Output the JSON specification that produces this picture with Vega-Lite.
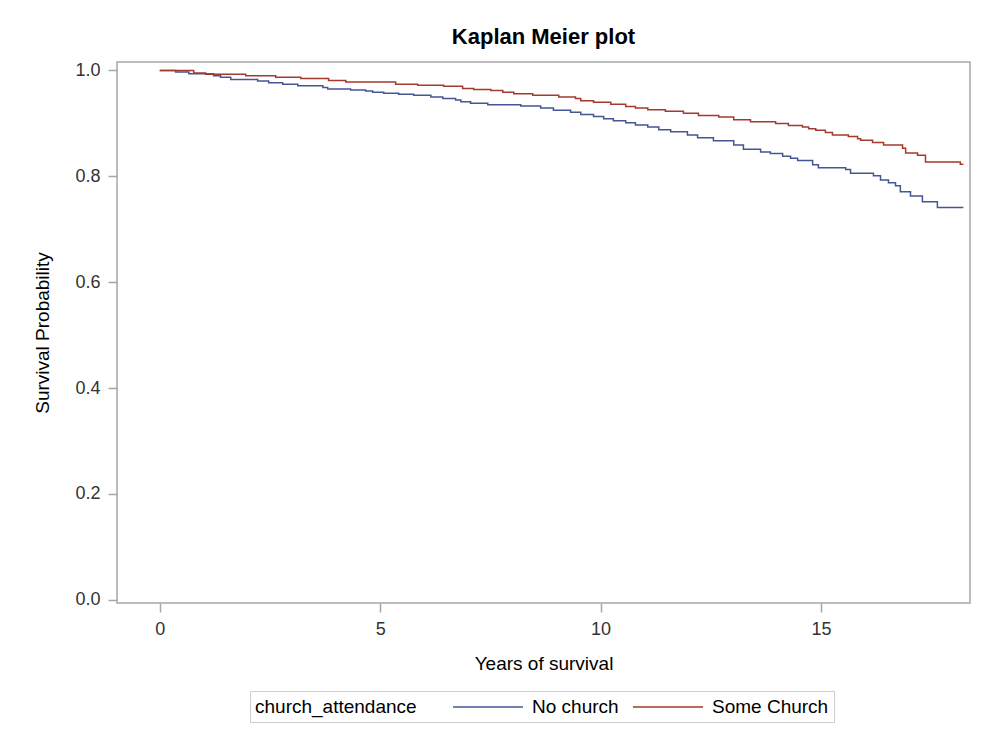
{
  "$schema": "https://vega.github.io/schema/vega-lite/v6.json",
  "width": 853,
  "height": 541,
  "autosize": {"type": "none"},
  "padding": {"left": 117, "top": 62, "right": 18, "bottom": 129},
  "background": "white",
  "title": {
    "text": "Kaplan Meier plot",
    "font": "Liberation Sans",
    "fontSize": 22,
    "fontWeight": "bold",
    "color": "#000000",
    "anchor": "middle",
    "offset": 12
  },
  "data": {
    "values": [
      {"t": 0.00, "s": 1.000, "g": "No church"},
      {"t": 0.36, "s": 0.997, "g": "No church"},
      {"t": 0.66, "s": 0.994, "g": "No church"},
      {"t": 1.22, "s": 0.990, "g": "No church"},
      {"t": 1.38, "s": 0.987, "g": "No church"},
      {"t": 1.61, "s": 0.983, "g": "No church"},
      {"t": 2.22, "s": 0.980, "g": "No church"},
      {"t": 2.47, "s": 0.977, "g": "No church"},
      {"t": 2.79, "s": 0.974, "g": "No church"},
      {"t": 3.13, "s": 0.971, "g": "No church"},
      {"t": 3.70, "s": 0.968, "g": "No church"},
      {"t": 3.81, "s": 0.965, "g": "No church"},
      {"t": 4.33, "s": 0.963, "g": "No church"},
      {"t": 4.67, "s": 0.961, "g": "No church"},
      {"t": 4.83, "s": 0.959, "g": "No church"},
      {"t": 5.08, "s": 0.957, "g": "No church"},
      {"t": 5.42, "s": 0.955, "g": "No church"},
      {"t": 5.76, "s": 0.953, "g": "No church"},
      {"t": 6.15, "s": 0.950, "g": "No church"},
      {"t": 6.42, "s": 0.947, "g": "No church"},
      {"t": 6.71, "s": 0.944, "g": "No church"},
      {"t": 6.83, "s": 0.941, "g": "No church"},
      {"t": 7.05, "s": 0.938, "g": "No church"},
      {"t": 7.44, "s": 0.935, "g": "No church"},
      {"t": 8.19, "s": 0.933, "g": "No church"},
      {"t": 8.64, "s": 0.929, "g": "No church"},
      {"t": 8.93, "s": 0.925, "g": "No church"},
      {"t": 9.32, "s": 0.921, "g": "No church"},
      {"t": 9.55, "s": 0.917, "g": "No church"},
      {"t": 9.84, "s": 0.913, "g": "No church"},
      {"t": 10.07, "s": 0.909, "g": "No church"},
      {"t": 10.29, "s": 0.905, "g": "No church"},
      {"t": 10.57, "s": 0.901, "g": "No church"},
      {"t": 10.79, "s": 0.897, "g": "No church"},
      {"t": 11.07, "s": 0.893, "g": "No church"},
      {"t": 11.32, "s": 0.888, "g": "No church"},
      {"t": 11.59, "s": 0.884, "g": "No church"},
      {"t": 11.97, "s": 0.878, "g": "No church"},
      {"t": 12.20, "s": 0.873, "g": "No church"},
      {"t": 12.56, "s": 0.867, "g": "No church"},
      {"t": 13.02, "s": 0.859, "g": "No church"},
      {"t": 13.24, "s": 0.851, "g": "No church"},
      {"t": 13.63, "s": 0.846, "g": "No church"},
      {"t": 13.85, "s": 0.843, "g": "No church"},
      {"t": 14.13, "s": 0.838, "g": "No church"},
      {"t": 14.31, "s": 0.834, "g": "No church"},
      {"t": 14.47, "s": 0.830, "g": "No church"},
      {"t": 14.81, "s": 0.822, "g": "No church"},
      {"t": 14.94, "s": 0.816, "g": "No church"},
      {"t": 15.56, "s": 0.813, "g": "No church"},
      {"t": 15.67, "s": 0.806, "g": "No church"},
      {"t": 16.19, "s": 0.801, "g": "No church"},
      {"t": 16.35, "s": 0.793, "g": "No church"},
      {"t": 16.53, "s": 0.788, "g": "No church"},
      {"t": 16.69, "s": 0.782, "g": "No church"},
      {"t": 16.80, "s": 0.771, "g": "No church"},
      {"t": 17.03, "s": 0.763, "g": "No church"},
      {"t": 17.30, "s": 0.752, "g": "No church"},
      {"t": 17.64, "s": 0.741, "g": "No church"},
      {"t": 18.23, "s": 0.741, "g": "No church"},
      {"t": 0.00, "s": 1.000, "g": "Some Church"},
      {"t": 0.77, "s": 0.995, "g": "Some Church"},
      {"t": 1.04, "s": 0.993, "g": "Some Church"},
      {"t": 1.95, "s": 0.990, "g": "Some Church"},
      {"t": 2.63, "s": 0.987, "g": "Some Church"},
      {"t": 3.20, "s": 0.985, "g": "Some Church"},
      {"t": 3.83, "s": 0.981, "g": "Some Church"},
      {"t": 4.22, "s": 0.978, "g": "Some Church"},
      {"t": 5.35, "s": 0.974, "g": "Some Church"},
      {"t": 5.85, "s": 0.972, "g": "Some Church"},
      {"t": 6.44, "s": 0.970, "g": "Some Church"},
      {"t": 6.87, "s": 0.966, "g": "Some Church"},
      {"t": 7.12, "s": 0.964, "g": "Some Church"},
      {"t": 7.51, "s": 0.962, "g": "Some Church"},
      {"t": 7.78, "s": 0.959, "g": "Some Church"},
      {"t": 8.03, "s": 0.956, "g": "Some Church"},
      {"t": 8.46, "s": 0.953, "g": "Some Church"},
      {"t": 9.05, "s": 0.950, "g": "Some Church"},
      {"t": 9.43, "s": 0.947, "g": "Some Church"},
      {"t": 9.55, "s": 0.943, "g": "Some Church"},
      {"t": 9.84, "s": 0.940, "g": "Some Church"},
      {"t": 10.23, "s": 0.936, "g": "Some Church"},
      {"t": 10.57, "s": 0.932, "g": "Some Church"},
      {"t": 10.79, "s": 0.929, "g": "Some Church"},
      {"t": 11.07, "s": 0.926, "g": "Some Church"},
      {"t": 11.47, "s": 0.923, "g": "Some Church"},
      {"t": 11.88, "s": 0.919, "g": "Some Church"},
      {"t": 12.22, "s": 0.915, "g": "Some Church"},
      {"t": 12.68, "s": 0.912, "g": "Some Church"},
      {"t": 13.02, "s": 0.907, "g": "Some Church"},
      {"t": 13.40, "s": 0.903, "g": "Some Church"},
      {"t": 13.97, "s": 0.900, "g": "Some Church"},
      {"t": 14.26, "s": 0.896, "g": "Some Church"},
      {"t": 14.58, "s": 0.893, "g": "Some Church"},
      {"t": 14.72, "s": 0.890, "g": "Some Church"},
      {"t": 14.88, "s": 0.887, "g": "Some Church"},
      {"t": 15.10, "s": 0.883, "g": "Some Church"},
      {"t": 15.26, "s": 0.878, "g": "Some Church"},
      {"t": 15.62, "s": 0.875, "g": "Some Church"},
      {"t": 15.83, "s": 0.871, "g": "Some Church"},
      {"t": 15.90, "s": 0.868, "g": "Some Church"},
      {"t": 16.17, "s": 0.864, "g": "Some Church"},
      {"t": 16.42, "s": 0.859, "g": "Some Church"},
      {"t": 16.85, "s": 0.853, "g": "Some Church"},
      {"t": 16.92, "s": 0.844, "g": "Some Church"},
      {"t": 17.19, "s": 0.840, "g": "Some Church"},
      {"t": 17.37, "s": 0.827, "g": "Some Church"},
      {"t": 18.16, "s": 0.823, "g": "Some Church"},
      {"t": 18.23, "s": 0.823, "g": "Some Church"}
    ]
  },
  "mark": {"type": "line", "interpolate": "step-after", "strokeWidth": 1.5, "clip": true},
  "encoding": {
    "x": {
      "field": "t",
      "type": "quantitative",
      "title": "Years of survival",
      "scale": {"domain": [-0.97, 18.38], "nice": false, "zero": false},
      "axis": {"values": [0, 5, 10, 15], "format": "d", "grid": false, "domain": false,
               "tickSize": 9, "labelPadding": 8, "titlePadding": 16}
    },
    "y": {
      "field": "s",
      "type": "quantitative",
      "title": "Survival Probability",
      "scale": {"domain": [-0.0062, 1.016], "nice": false, "zero": false},
      "axis": {"values": [0, 0.2, 0.4, 0.6, 0.8, 1.0], "format": ".1f", "grid": false, "domain": false,
               "tickSize": 9, "labelPadding": 8, "titlePadding": 22}
    },
    "color": {
      "field": "g",
      "type": "nominal",
      "title": "church_attendance",
      "scale": {"domain": ["No church", "Some Church"], "range": ["#445694", "#A23A2E"]},
      "legend": {
        "orient": "none",
        "legendX": 133,
        "legendY": 629,
        "direction": "horizontal",
        "titleOrient": "left",
        "titleAnchor": "middle",
        "titleBaseline": "middle",
        "titleFontWeight": "normal",
        "titleFontSize": 19,
        "titleFont": "Liberation Sans",
        "titleColor": "#000000",
        "titlePadding": 60,
        "labelFont": "Liberation Sans",
        "labelFontSize": 19,
        "labelColor": "#000000",
        "labelOffset": 33,
        "columnPadding": 11,
        "symbolType": "M-3.5,0H3.5",
        "symbolSize": 400,
        "symbolStrokeWidth": 1.5,
        "symbolFillColor": "transparent",
        "strokeColor": "#cccccc",
        "padding": 5
      }
    }
  },
  "config": {
    "view": {"stroke": "#a6a6a6", "strokeWidth": 1.5},
    "axis": {
      "labelFont": "Liberation Sans",
      "labelFontSize": 18,
      "labelColor": "#333333",
      "titleFont": "Liberation Sans",
      "titleFontSize": 19,
      "titleFontWeight": "normal",
      "titleColor": "#000000",
      "tickColor": "#a6a6a6",
      "tickWidth": 1.5
    }
  }
}
